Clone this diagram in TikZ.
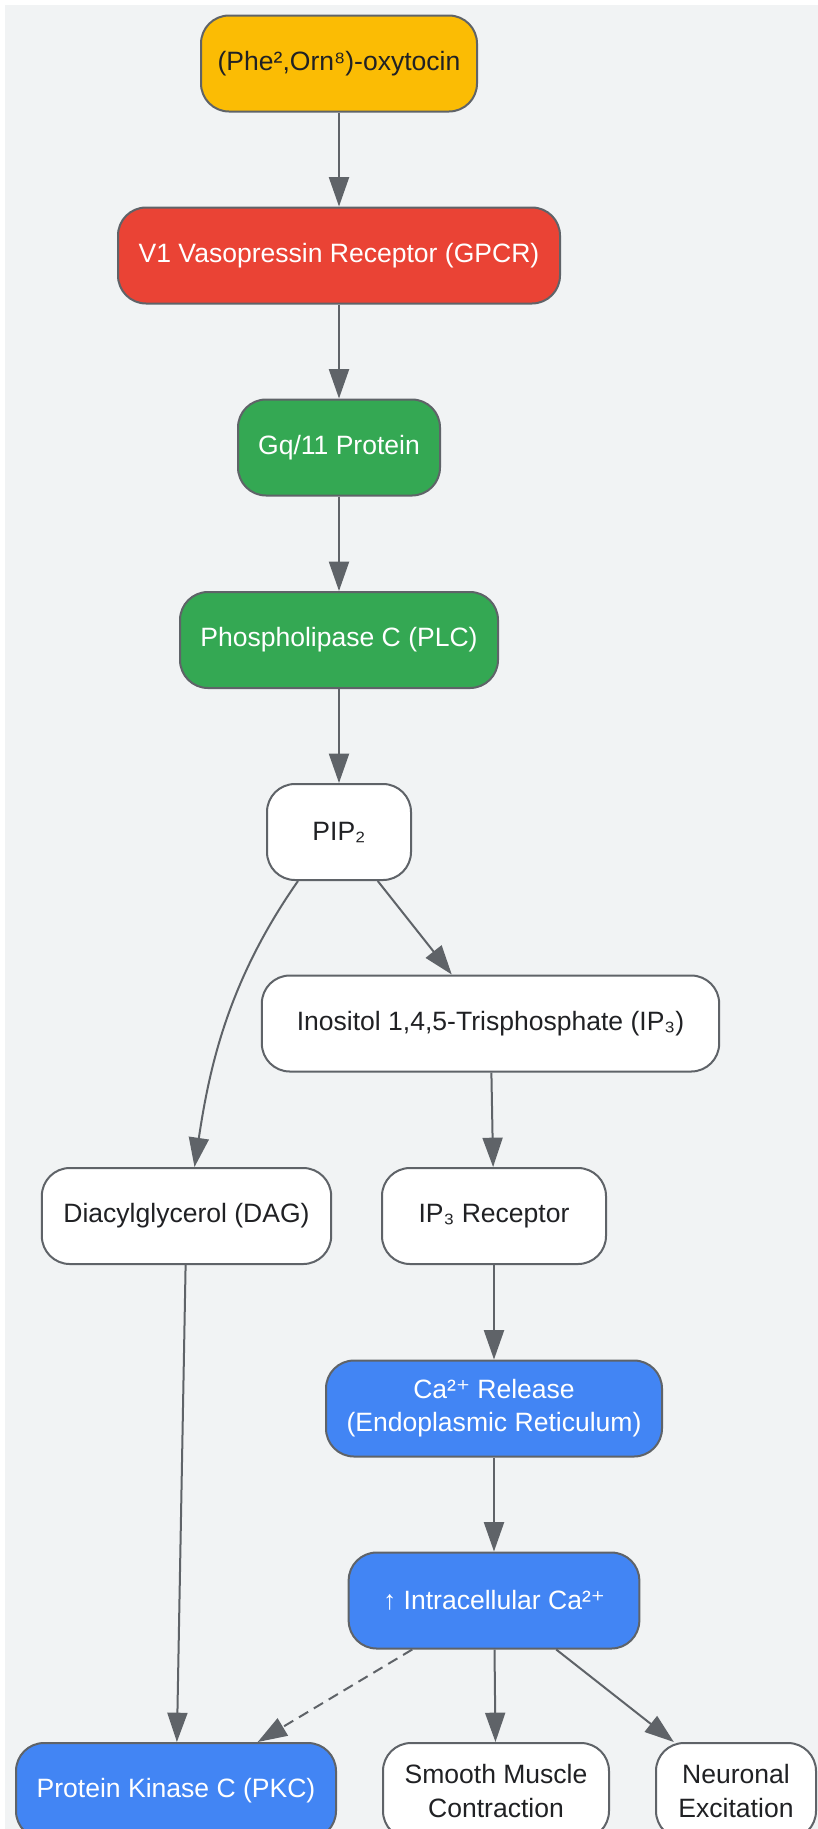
\documentclass[tikz,border=0pt]{standalone}
\usepackage{fontspec}
\setmainfont{Liberation Sans}
\newfontfamily\symfont{DejaVu Sans}
\usetikzlibrary{arrows.meta,calc}
\definecolor{bgfill}{HTML}{F1F3F4}
\definecolor{edgegray}{HTML}{5F6368}
\definecolor{inkdark}{HTML}{202124}
\definecolor{gyellow}{HTML}{FBBC04}
\definecolor{gred}{HTML}{EA4335}
\definecolor{ggreen}{HTML}{34A853}
\definecolor{gblue}{HTML}{4285F4}
\newcommand{\plusup}{{\symfont ⁺}}
\tikzset{
  box/.style={
    draw=edgegray, line width=1.5pt, fill=white, text=inkdark,
    rounded corners=21pt, minimum height=72pt, inner xsep=6pt,
    align=center, font=\fontsize{19.9}{24.8}\selectfont,
  },
  hot/.style={box, text=white},
  flow/.style={draw=edgegray, line width=1.5pt, -{Triangle[length=22pt,width=15pt]}},
}

\begin{document}
\begin{tikzpicture}[x=0.75pt, y=-0.75pt]
\useasboundingbox (0,0) rectangle (818,1829);
\fill[bgfill] (5,5) rectangle (818,1829);

\node[box, fill=gyellow, minimum width=207pt] (oxy) at (339,63.5) {(Phe²,Orn⁸)-oxytocin};
\node[hot, fill=gred, minimum width=331.5pt] (v1r) at (339,255.5) {V1 Vasopressin Receptor (GPCR)};
\node[hot, fill=ggreen, minimum width=151.5pt] (gq) at (339,447.5) {Gq/11 Protein};
\node[hot, fill=ggreen, minimum width=238.5pt] (plc) at (339,640) {Phospholipase C (PLC)};
\node[box, minimum width=108pt] (pip) at (339,832) {PIP₂};
\node[box, minimum width=343pt] (ip3) at (490.5,1023.5) {Inositol 1,4,5-Trisphosphate (IP₃)};
\node[box, minimum width=217pt] (dag) at (186.5,1216) {Diacylglycerol (DAG)};
\node[box, minimum width=168pt] (ip3r) at (494,1216) {IP₃ Receptor};
\node[hot, fill=gblue, minimum width=252pt] (carel) at (494,1408.5) {Ca²\plusup{} Release\\(Endoplasmic Reticulum)};
\node[hot, fill=gblue, minimum width=218pt] (cain) at (494,1600.5) {↑ Intracellular Ca²\plusup};
\node[hot, fill=gblue, minimum width=240pt] (pkc) at (176,1791) {Protein Kinase C (PKC)};
\node[box, minimum width=169.5pt] (smc) at (496,1791) {Smooth Muscle\\Contraction};
\node[box, minimum width=120pt] (neu) at (736,1791) {Neuronal\\Excitation};

\draw[flow] (oxy) -- (v1r);
\draw[flow] (v1r) -- (gq);
\draw[flow] (gq) -- (plc);
\draw[flow] (plc) -- (pip);
\draw[flow] (pip) -- (ip3);
\draw[flow] ($(pip.south)+(-41,0)$) .. controls +(-70,100) and +(15,-100) .. ($(dag.north)+(8,0)$);
\draw[flow] (ip3) -- (ip3r);
\draw[flow] (ip3r) -- (carel);
\draw[flow] (carel) -- (cain);
\draw[flow] (dag) -- (pkc);
\draw[flow, dash pattern=on 8pt off 5pt] (cain) -- (pkc);
\draw[flow] (cain) -- (smc);
\draw[flow] (cain) -- (neu);
\end{tikzpicture}
\end{document}
